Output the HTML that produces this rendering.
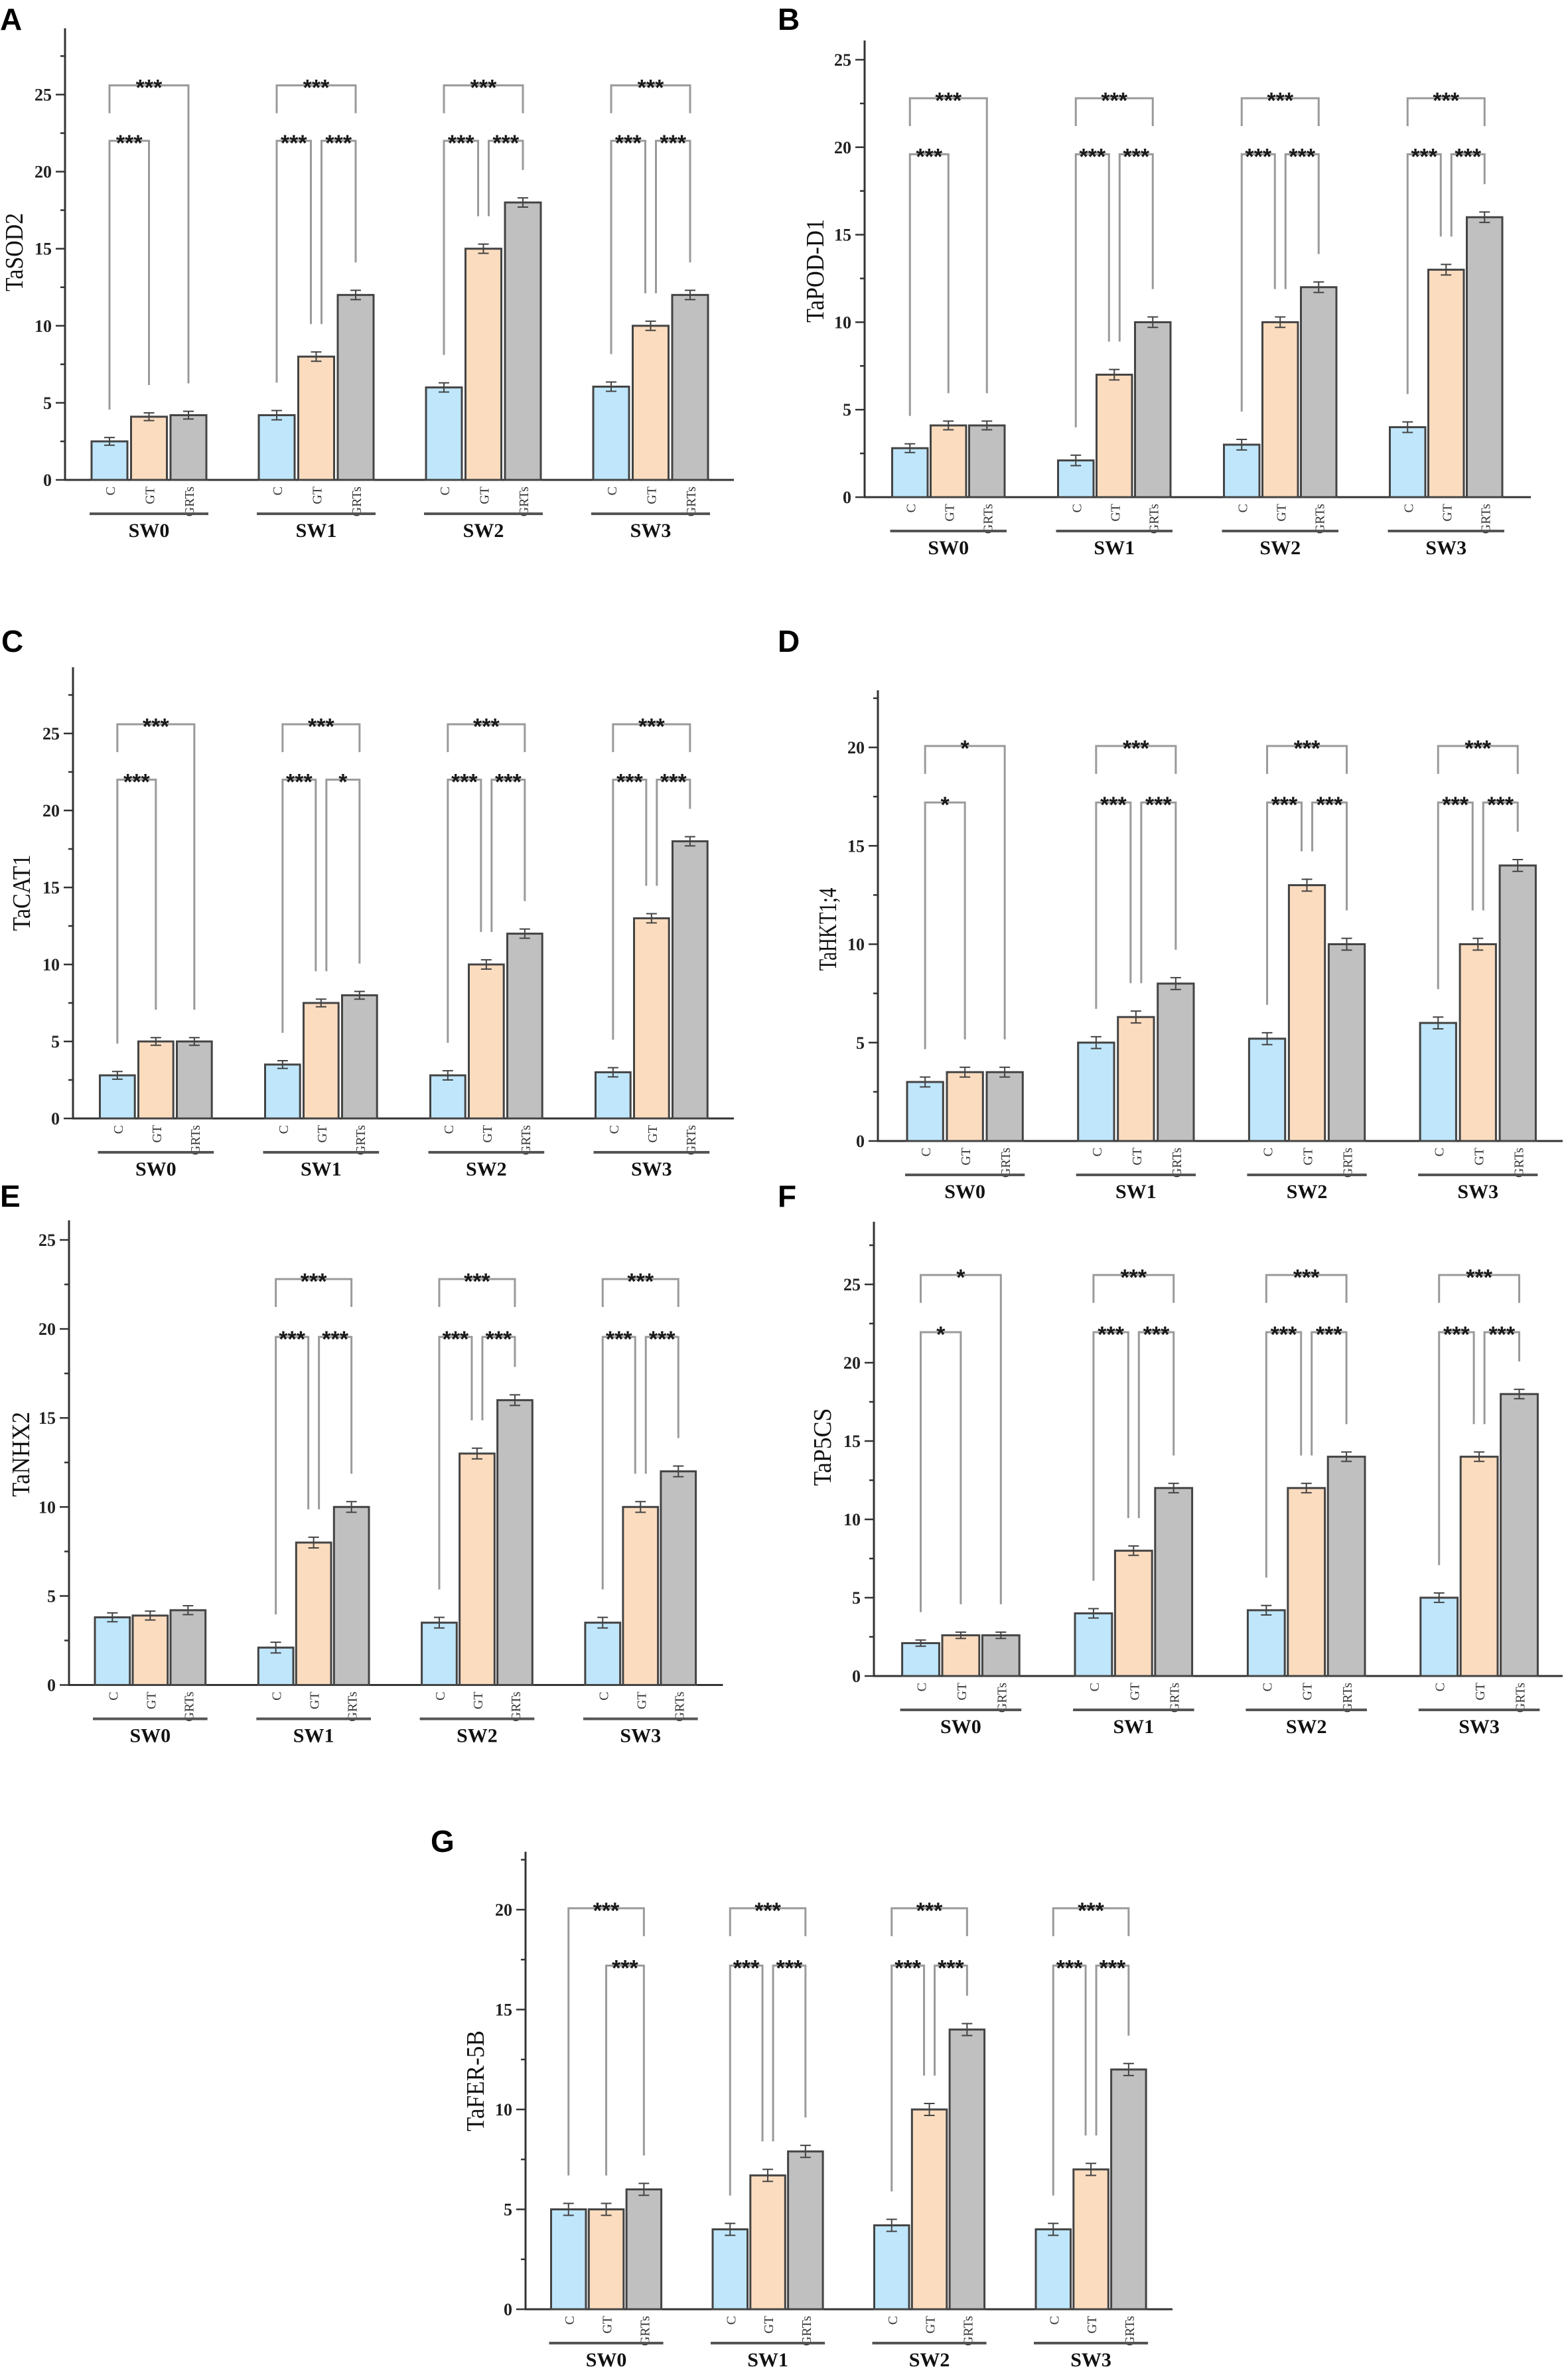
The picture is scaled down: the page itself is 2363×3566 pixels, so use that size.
<!DOCTYPE html>
<html>
<head>
<meta charset="utf-8">
<style>
html,body{margin:0;padding:0;background:#fff;}
svg{display:block;}
</style>
</head>
<body>
<svg id="fig" xmlns="http://www.w3.org/2000/svg" width="2363" height="3566" viewBox="0 0 2363 3566"></svg>
<script>
const groups = ["SW0", "SW1", "SW2", "SW3"];
const treatments = ["C", "GT", "GRTs"];

// Panel A TaSOD2
const sod2C = [2.5, 4.2, 6.0, 6.05];
const sod2GT = [4.1, 8.0, 15.0, 10.0];
const sod2GRTs = [4.2, 12.0, 18.0, 12.0];
const sod2Err = [0.25, 0.3, 0.3, 0.3];
const sod2Sig = [["***", "***", null], ["***", "***", "***"], ["***", "***", "***"], ["***", "***", "***"]];
// Panel B TaPOD-D1
const podC = [2.8, 2.1, 3.0, 4.0];
const podGT = [4.1, 7.0, 10.0, 13.0];
const podGRTs = [4.1, 10.0, 12.0, 16.0];
const podErr = [0.25, 0.3, 0.3, 0.3];
const podSig = [["***", "***", null], ["***", "***", "***"], ["***", "***", "***"], ["***", "***", "***"]];
// Panel C TaCAT1
const catC = [2.8, 3.5, 2.8, 3.0];
const catGT = [5.0, 7.5, 10.0, 13.0];
const catGRTs = [5.0, 8.0, 12.0, 18.0];
const catErr = [0.25, 0.25, 0.3, 0.3];
const catSig = [["***", "***", null], ["***", "***", "*"], ["***", "***", "***"], ["***", "***", "***"]];
// Panel D TaHKT1;4
const hktC = [3.0, 5.0, 5.2, 6.0];
const hktGT = [3.5, 6.3, 13.0, 10.0];
const hktGRTs = [3.5, 8.0, 10.0, 14.0];
const hktErr = [0.25, 0.3, 0.3, 0.3];
const hktSig = [["*", "*", null], ["***", "***", "***"], ["***", "***", "***"], ["***", "***", "***"]];
// Panel E TaNHX2
const nhxC = [3.8, 2.1, 3.5, 3.5];
const nhxGT = [3.9, 8.0, 13.0, 10.0];
const nhxGRTs = [4.2, 10.0, 16.0, 12.0];
const nhxErr = [0.25, 0.3, 0.3, 0.3];
const nhxSig = [[null, null, null], ["***", "***", "***"], ["***", "***", "***"], ["***", "***", "***"]];
// Panel F TaP5CS
const p5csC = [2.1, 4.0, 4.2, 5.0];
const p5csGT = [2.6, 8.0, 12.0, 14.0];
const p5csGRTs = [2.6, 12.0, 14.0, 18.0];
const p5csErr = [0.2, 0.3, 0.3, 0.3];
const p5csSig = [["*", "*", null], ["***", "***", "***"], ["***", "***", "***"], ["***", "***", "***"]];
// Panel G TaFER-5B
const ferC = [5.0, 4.0, 4.2, 4.0];
const ferGT = [5.0, 6.7, 10.0, 7.0];
const ferGRTs = [6.0, 7.9, 14.0, 12.0];
const ferErr = [0.3, 0.3, 0.3, 0.3];
const ferSig = [["***", null, "***"], ["***", "***", "***"], ["***", "***", "***"], ["***", "***", "***"]];

const NS = "http://www.w3.org/2000/svg";
const svg = document.getElementById("fig");
const fills = ["#bfe6fb", "#fcdcbf", "#c0c0c0"];

function mk(tag, attrs, parent) {
  const el = document.createElementNS(NS, tag);
  for (const k in attrs) el.setAttribute(k, attrs[k]);
  parent.appendChild(el);
  return el;
}

function drawPanel(cfg, C, GT, GRTs, err, sig) {
  const g = mk("g", {}, svg);
  
  
  const y = v => cfg.zeroY - v * cfg.ppu;

  const letter = mk("text", {x: cfg.lx, y: cfg.ly, "font-family": "Liberation Sans, sans-serif", "font-weight": "bold", "font-size": 46, fill: "#000"}, g);
  letter.textContent = cfg.letter;
  
  

  const title = mk("text", {x: 0, y: 0, transform: "translate(" + cfg.tx + "," + cfg.ty + ") rotate(-90)", "text-anchor": "middle", "dominant-baseline": "central", "font-family": "Liberation Serif, serif", "font-size": 38, fill: "#111", textLength: cfg.tlen, lengthAdjust: "spacingAndGlyphs"}, g);
  title.textContent = cfg.title;
  
  

  const topY = y(cfg.topVal);
  const ya = mk("line", {x1: cfg.axisX, y1: topY, x2: cfg.axisX, y2: cfg.zeroY + 1, stroke: "#333", "stroke-width": 3}, g);
  
  
  const xa = mk("line", {x1: cfg.axisX - 1, y1: cfg.zeroY, x2: cfg.rightX, y2: cfg.zeroY, stroke: "#333", "stroke-width": 3}, g);
  
  

  for (let v = 0; v <= cfg.topVal + 0.01; v += 2.5) {
    const major = Math.abs(v % 5) < 0.01;
    const t = mk("line", {x1: cfg.axisX - (major ? 14 : 7), y1: y(v), x2: cfg.axisX, y2: y(v), stroke: "#333", "stroke-width": 2.5}, g);
    
    
    if (major) {
      const lbl = mk("text", {x: cfg.axisX - 20, y: y(v) + 9, "text-anchor": "end", "font-family": "Liberation Serif, serif", "font-weight": "bold", "font-size": 26, fill: "#222"}, g);
      lbl.textContent = String(v);
      
      
    }
  }

  const series = [C, GT, GRTs];
  for (let gi = 0; gi < groups.length; gi++) {
    const x0 = cfg.firstBar + gi * cfg.pitch;
    const centers = [];
    for (let ti = 0; ti < 3; ti++) {
      const bx = x0 + ti * cfg.step;
      const v = series[ti][gi];
      const cx = bx + cfg.barW / 2;
      centers.push(cx);
      const r = mk("rect", {x: bx, y: y(v), width: cfg.barW, height: cfg.zeroY - y(v), fill: fills[ti], stroke: "#444", "stroke-width": 3}, g);
      
      
      const e = err[gi];
      const eb = mk("path", {d: "M" + cx + " " + y(v + e) + "V" + y(v - e) + "M" + (cx - 8) + " " + y(v + e) + "H" + (cx + 8) + "M" + (cx - 8) + " " + y(v - e) + "H" + (cx + 8), stroke: "#444", "stroke-width": 2, fill: "none"}, g);
      
      
      const cl = mk("text", {x: 0, y: 0, transform: "translate(" + (cx + 2) + "," + (cfg.zeroY + 10) + ") rotate(-90)", "text-anchor": "end", "dominant-baseline": "central", "font-family": "Liberation Serif, serif", "font-size": 20, fill: "#333"}, g);
      cl.textContent = treatments[ti];
      
      
    }
    const ul = mk("line", {x1: x0 - 3, y1: cfg.zeroY + 51, x2: x0 + 2 * cfg.step + cfg.barW + 3, y2: cfg.zeroY + 51, stroke: "#555", "stroke-width": 4}, g);
    
    
    const gl = mk("text", {x: x0 + (2 * cfg.step + cfg.barW) / 2, y: cfg.zeroY + 86, "text-anchor": "middle", "font-family": "Liberation Serif, serif", "font-weight": "bold", "font-size": 30, fill: "#111"}, g);
    gl.textContent = groups[gi];
    
    

    const s = sig[gi];
    const legEnd = (ti) => y(series[ti][gi] + err[gi]) - 42;
    const hasCGT = !!s[1], hasGG = !!s[2];
    const brackets = [];
    if (s[1]) {
      const Y = y(cfg.lowBr);
      brackets.push([centers[0], hasGG ? centers[1] - 8 : centers[1], Y, legEnd(0), legEnd(1), s[1]]);
    }
    if (s[2]) {
      const Y = y(cfg.lowBr);
      brackets.push([hasCGT ? centers[1] + 8 : centers[1], centers[2], Y, legEnd(1), legEnd(2), s[2]]);
    }
    if (s[0]) {
      const Y = y(cfg.topBr);
      brackets.push([centers[0], centers[2], Y, hasCGT ? Y + 42 : legEnd(0), hasGG ? Y + 42 : legEnd(2), s[0]]);
    }
    for (const b of brackets) {
      const p = mk("path", {d: "M" + b[0] + " " + b[3] + "V" + b[2] + "H" + b[1] + "V" + b[4], stroke: "#9a9a9a", "stroke-width": 3, fill: "none"}, g);
      
      
      const st = mk("text", {x: (b[0] + b[1]) / 2, y: b[2] + 15, "text-anchor": "middle", "font-family": "Liberation Sans, sans-serif", "font-weight": "bold", "font-size": 34, fill: "#1a1a1a"}, g);
      st.textContent = b[5];
      
      
    }
  }
}

drawPanel({name: "tasod2", letter: "A", lx: 0, ly: 45, title: "TaSOD2", tx: 22, ty: 380, tlen: 118,
  axisX: 98, zeroY: 723, ppu: 23.22, topVal: 29.3, rightX: 1106, firstBar: 138, pitch: 252, step: 59.5, barW: 54, topBr: 25.6, lowBr: 22.0},
  sod2C, sod2GT, sod2GRTs, sod2Err, sod2Sig);
drawPanel({name: "tapod-d1", letter: "B", lx: 1172, ly: 45, title: "TaPOD-D1", tx: 1229, ty: 408, tlen: 156,
  axisX: 1303, zeroY: 749, ppu: 26.36, topVal: 26.1, rightX: 2307, firstBar: 1344.5, pitch: 250, step: 58, barW: 53.5, topBr: 22.8, lowBr: 19.6},
  podC, podGT, podGRTs, podErr, podSig);
drawPanel({name: "tacat1", letter: "C", lx: 2, ly: 982, title: "TaCAT1", tx: 33, ty: 1345, tlen: 115,
  axisX: 110, zeroY: 1685, ppu: 23.2, topVal: 29.3, rightX: 1106, firstBar: 150.5, pitch: 249, step: 58, barW: 52.7, topBr: 25.6, lowBr: 22.0},
  catC, catGT, catGRTs, catErr, catSig);
drawPanel({name: "tahkt1-4", letter: "D", lx: 1172, ly: 982, title: "TaHKT1;4", tx: 1248, ty: 1400, tlen: 125,
  axisX: 1323, zeroY: 1719, ppu: 29.65, topVal: 22.9, rightX: 2355, firstBar: 1367, pitch: 257.7, step: 60, barW: 54.3, topBr: 20.07, lowBr: 17.2},
  hktC, hktGT, hktGRTs, hktErr, hktSig);
drawPanel({name: "tanhx2", letter: "E", lx: 0, ly: 1818, title: "TaNHX2", tx: 32, ty: 2191, tlen: 128,
  axisX: 104, zeroY: 2538.5, ppu: 26.82, topVal: 26.1, rightX: 1089.5, firstBar: 143, pitch: 246.3, step: 57, barW: 52.7, topBr: 22.8, lowBr: 19.55},
  nhxC, nhxGT, nhxGRTs, nhxErr, nhxSig);
drawPanel({name: "tap5cs", letter: "F", lx: 1172, ly: 1818, title: "TaP5CS", tx: 1240, ty: 2180, tlen: 117,
  axisX: 1317, zeroY: 2525, ppu: 23.6, topVal: 29.0, rightX: 2355, firstBar: 1359.6, pitch: 260.4, step: 60.4, barW: 55.8, topBr: 25.6, lowBr: 21.95},
  p5csC, p5csGT, p5csGRTs, p5csErr, p5csSig);
drawPanel({name: "tafer-5b", letter: "G", lx: 649, ly: 2790, title: "TaFER-5B", tx: 717, ty: 3135, tlen: 152,
  axisX: 792, zeroY: 3479, ppu: 30.1, topVal: 22.9, rightX: 1767, firstBar: 830.5, pitch: 243.5, step: 56.8, barW: 52.5, topBr: 20.07, lowBr: 17.2},
  ferC, ferGT, ferGRTs, ferErr, ferSig);
</script>
</body>
</html>
